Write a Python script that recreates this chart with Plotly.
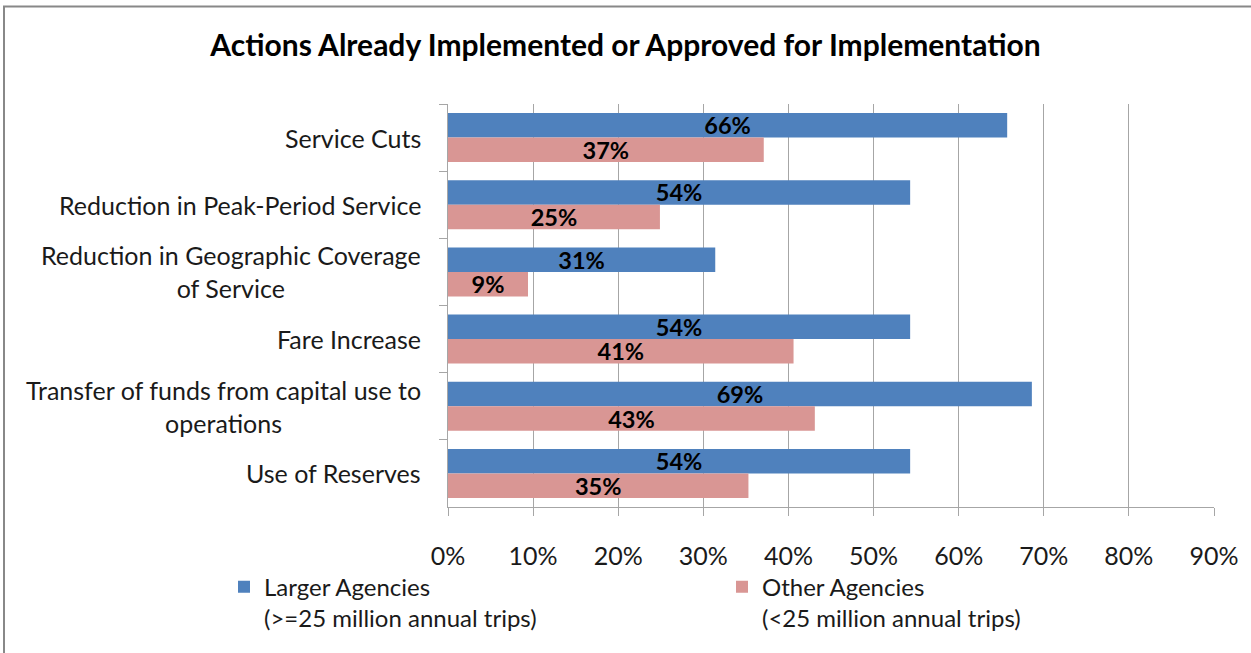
import plotly.graph_objects as go

categories = [
    "Service Cuts",
    "Reduction in Peak-Period Service",
    "Reduction in Geographic Coverage<br>of Service",
    "Fare Increase",
    "Transfer of funds from capital use to<br>operations",
    "Use of Reserves",
]
larger_agencies = [65.7, 54.3, 31.4, 54.3, 68.6, 54.3]
other_agencies = [37.1, 24.9, 9.4, 40.6, 43.1, 35.3]
series_names = [
    "Larger Agencies<br>(>=25 million annual trips)",
    "Other Agencies<br>(<25 million annual trips)",
]
x_ticks = [0, 10, 20, 30, 40, 50, 60, 70, 80, 90]
title_text = "Actions Already Implemented or Approved for Implementation"

FONT = "Lato"
W, H = 1251, 653
ML, MR, MT, MB = 448, 37, 104, 136
PW = W - ML - MR
PH = H - MT - MB

fig = go.Figure()
for name, vals, col, leg in [
    (series_names[0], larger_agencies, "#4F81BD", "legend"),
    (series_names[1], other_agencies, "#D99694", "legend2"),
]:
    fig.add_trace(go.Bar(
        y=categories, x=vals, name=name, orientation="h", legend=leg,
        marker=dict(color=col, line=dict(width=0)),
        texttemplate="%{x:.0f}%", textposition="inside",
        insidetextanchor="middle", constraintext="none",
        textfont=dict(family=FONT, size=23.5, color="#000000", weight="bold"),
        hoverinfo="skip",
    ))

for c in categories:
    fig.add_annotation(
        x=0, xref="paper", y=c, yref="y", xanchor="right", xshift=-25,
        text=c, showarrow=False, align="center",
        font=dict(family=FONT, size=25, color="#1a1a1a"),
    )

# outer chart border
fig.add_shape(
    type="rect", xref="paper", yref="paper",
    x0=(4 - ML) / PW, x1=(W + 20 - ML) / PW,
    y0=(PH + MT - 4) / PH, y1=-(MB + 20) / PH,
    line=dict(color="#888888", width=2), fillcolor="rgba(0,0,0,0)", layer="below",
)

legend_common = dict(
    orientation="h", xanchor="left",
    y=-(576 - (MT + PH)) / PH, yanchor="top", valign="top",
    font=dict(family=FONT, size=24, color="#1a1a1a"),
    bgcolor="rgba(0,0,0,0)",
)

fig.update_layout(
    width=W, height=H,
    margin=dict(l=ML, r=MR, t=MT, b=MB),
    paper_bgcolor="white", plot_bgcolor="white",
    barmode="group", bargap=0.27, bargroupgap=0,
    title=dict(text=f"<b>{title_text}</b>", x=0.5, xref="container", xanchor="center",
               y=1 - 45 / H, yref="container", yanchor="middle",
               font=dict(family=FONT, size=30, color="#000000")),
    font=dict(family=FONT, color="#1a1a1a"),
    showlegend=True,
    legend=dict(x=(224 - ML) / PW, **legend_common),
    legend2=dict(x=(722 - ML) / PW, **legend_common),
    xaxis=dict(
        range=[0, 90], tickvals=x_ticks, ticktext=[f"{v}%" for v in x_ticks],
        showgrid=True, gridcolor="#A6A6A6", gridwidth=1,
        showline=True, linecolor="#A6A6A6", linewidth=1,
        ticks="outside", ticklen=8, tickcolor="#A6A6A6",
        ticklabelstandoff=19, zeroline=False, automargin=False,
        tickfont=dict(family=FONT, size=25, color="#1a1a1a"),
        fixedrange=True,
    ),
    yaxis=dict(
        categoryorder="array", categoryarray=categories,
        range=[len(categories) - 0.5, -0.5],
        showticklabels=False, showgrid=False,
        showline=True, linecolor="#A6A6A6", linewidth=1,
        ticks="outside", ticklen=8, tickcolor="#A6A6A6", tickson="boundaries",
        zeroline=False, fixedrange=True,
    ),
)

fig.write_html("out.html")
